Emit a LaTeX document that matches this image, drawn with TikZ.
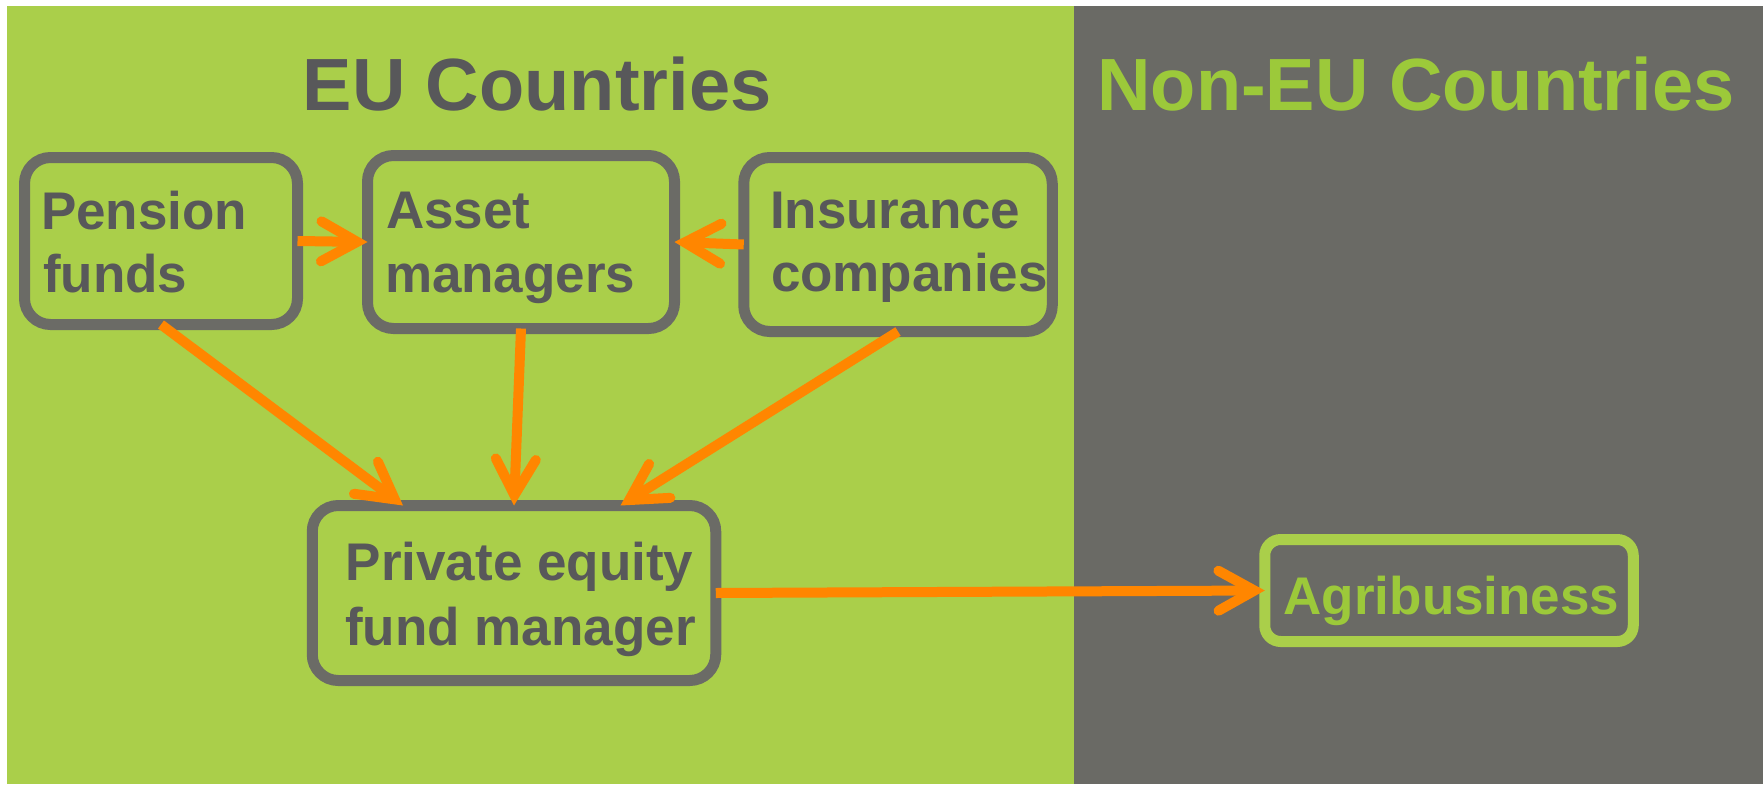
\documentclass[tikz,border=0pt]{standalone}
\usepackage{fontspec}
\setmainfont{Liberation Sans}
\usetikzlibrary{arrows.meta,calc}
\definecolor{eugreen}{HTML}{AACF4A}
\definecolor{panelgray}{HTML}{6A6A65}
\definecolor{boxgray}{HTML}{6B6B66}
\definecolor{txtgray}{HTML}{58585A}
\definecolor{titlegreen}{HTML}{9CC93A}
\definecolor{flowor}{HTML}{FF8600}
\tikzset{
  box/.style={draw=boxgray, line width=11pt, rounded corners=26pt, inner sep=0pt, outer sep=0pt},
  agribox/.style={draw=eugreen, line width=11pt, rounded corners=16pt, inner sep=0pt, outer sep=0pt},
  lbl/.style={inner sep=0pt, outer sep=0pt, text=txtgray, font=\fontsize{53}{64}\selectfont\bfseries},
  ttl/.style={inner sep=0pt, outer sep=0pt, font=\fontsize{74}{88}\selectfont\bfseries},
  flow/.style={draw=flowor, line width=10pt,
    -{Straight Barb[length=36pt, width=40pt, line cap=round, line join=miter]}}
}
\begin{document}
\begin{tikzpicture}[x=1pt,y=-1pt]
\useasboundingbox (0,0) rectangle (1763,784);
\fill[white] (0,0) rectangle (1763,784);
\fill[eugreen] (7,6) rectangle (1074,784);
\fill[panelgray] (1074,6) rectangle (1763,784);

\node[ttl, text=txtgray, anchor=base] (eut) at (537,110) {EU Countries};
\node[ttl, text=titlegreen, anchor=base] (neut) at (1416,110) {Non-EU Countries};

\node[box, minimum width=273pt, minimum height=167pt] (pension) at (161,241) {};
\node[box, minimum width=307pt, minimum height=173pt] (asset) at (521,242) {};
\node[box, minimum width=308.5pt, minimum height=174pt] (insur) at (898,244.5) {};
\node[box, minimum width=403.5pt, minimum height=175pt] (priv) at (514,593) {};
\node[agribox, minimum width=368.5pt, minimum height=102pt] (agri) at (1449,590.5) {};

\node[lbl, anchor=base west] (pension1) at (41,229) {Pension};
\node[lbl, anchor=base west] (pension2) at (43,292) {funds};
\node[lbl, anchor=base west] (asset1) at (386,228) {Asset};
\node[lbl, anchor=base west] (asset2) at (385,292) {managers};
\node[lbl, anchor=base west] (insur1) at (770,228) {Insurance};
\node[lbl, anchor=base west] (insur2) at (771,291) {companies};
\node[lbl, anchor=base] (priv1) at (519.5,580) {Private equity};
\node[lbl, anchor=base] (priv2) at (520.5,645) {fund manager};
\node[lbl, anchor=base, text=titlegreen] (agri1) at (1451.5,614) {Agribusiness};

\coordinate (privA) at ($(priv.north)+(-111,0)$);
\coordinate (privC) at ($(priv.north)+(106.5,0)$);

\draw[flow] (pension.east) -- (asset.west);
\draw[flow] (insur.west) -- (asset.east);
\draw[flow] (pension.south) -- (privA);
\draw[flow] (asset.south) -- (priv.north);
\draw[flow] (insur.south) -- (privC);
\draw[flow] (priv.east) -- (agri.west);
\end{tikzpicture}
\end{document}
